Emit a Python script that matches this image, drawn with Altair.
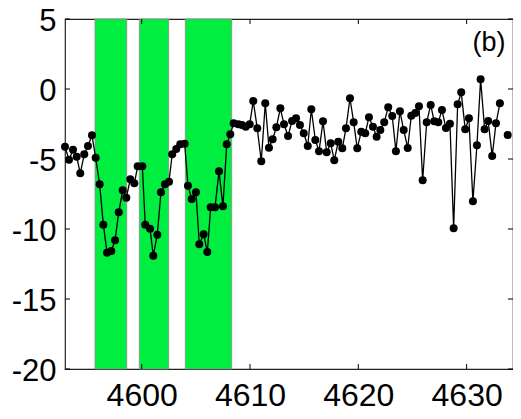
import altair as alt
import pandas as pd

# ---- data ----
xs = [4592.92, 4593.29, 4593.66, 4594.00, 4594.33, 4594.70, 4595.04, 4595.41, 4595.75, 4596.12,
      4596.46, 4596.80, 4597.19, 4597.54, 4597.88, 4598.25, 4598.58, 4598.95, 4599.32, 4599.63,
      4600.06, 4600.33, 4600.77, 4601.07, 4601.44, 4601.78, 4602.15, 4602.52, 4602.82, 4603.19,
      4603.56, 4603.97, 4604.27, 4604.62, 4605.01, 4605.32, 4605.72, 4606.06, 4606.37, 4606.77,
      4607.14, 4607.50, 4607.85, 4608.18, 4608.49, 4608.92, 4609.26, 4609.60, 4609.97, 4610.30,
      4610.67, 4611.04, 4611.41, 4611.75, 4612.09, 4612.43, 4612.80, 4613.14, 4613.51, 4613.88,
      4614.25, 4614.61, 4614.96, 4615.33, 4615.66, 4616.03, 4616.37, 4616.74, 4617.08, 4617.45,
      4617.78, 4618.15, 4618.52, 4618.86, 4619.23, 4619.57, 4619.90, 4620.27, 4620.64, 4620.98,
      4621.35, 4621.69, 4622.03, 4622.39, 4622.76, 4623.13, 4623.47, 4623.84, 4624.19, 4624.56,
      4624.89, 4625.26, 4625.60, 4625.94, 4626.31, 4626.68, 4627.01, 4627.38, 4627.72, 4628.09,
      4628.46, 4628.80, 4629.17, 4629.50, 4629.87, 4630.21, 4630.58, 4630.95, 4631.29, 4631.66,
      4631.99, 4632.36, 4632.71, 4633.07, 4633.79, 4634.80, 4635.15]
ys = [-4.12, -5.05, -4.34, -4.84, -6.02, -4.66, -4.07, -3.31, -4.91, -6.81,
      -9.69, -11.69, -11.57, -10.81, -8.81, -7.24, -7.76, -6.45, -6.74, -5.52,
      -5.52, -9.69, -9.98, -11.91, -10.41, -7.38, -6.81, -6.62, -4.66, -4.29,
      -3.95, -3.91, -6.91, -7.86, -7.38, -11.09, -10.38, -11.64, -8.45, -8.45,
      -5.88, -8.38, -3.95, -3.24, -2.45, -2.52, -2.57, -2.69, -2.52, -0.86,
      -2.81, -5.16, -1.02, -4.19, -3.59, -2.74, -1.38, -2.52, -3.36, -2.29,
      -2.09, -2.57, -3.16, -4.07, -1.45, -3.64, -4.45, -2.31, -4.52, -3.88,
      -5.09, -3.76, -4.24, -2.81, -0.66, -2.38, -4.24, -3.05, -3.16, -2.02,
      -2.69, -3.41, -2.93, -2.38, -1.31, -1.93, -4.45, -1.59, -2.93, -4.21,
      -1.91, -1.71, -1.24, -6.52, -2.38, -1.14, -2.31, -2.38, -1.50, -2.79,
      -2.48, -9.95, -1.09, -0.24, -2.88, -2.09, -8.02, -4.02, 0.69, -2.88,
      -2.29, -4.79, -2.45, -1.02, -3.29, -1.24, -2.20]
# line segments (gaps in the series)
segs = [0] * 114 + [1] + [2, 2]

band_start = [4595.69, 4599.78, 4604.03]
band_end = [4598.62, 4602.49, 4608.31]

x_ticks = [4600, 4610, 4620, 4630]
y_ticks = [-20, -15, -10, -5, 0, 5]
x_domain = [4592.92, 4634.28]
y_domain = [-20, 5]
panel_label = "(b)"
label_pos = [4632.06, 3.31]

W, H = 448, 350
FONT = "Liberation Sans"

df = pd.DataFrame({"x": xs, "y": ys, "seg": segs})
bands = pd.DataFrame({"x0": band_start, "x1": band_end})
xt = pd.DataFrame({"t": x_ticks})
yt = pd.DataFrame({"t": y_ticks})
lab = pd.DataFrame({"x": [label_pos[0]], "y": [label_pos[1]], "txt": [panel_label]})

xscale = alt.Scale(domain=x_domain, nice=False, zero=False)
yscale = alt.Scale(domain=y_domain, nice=False, zero=False)

xaxis = alt.Axis(values=x_ticks, title=None, tickSize=0, domain=False, grid=False,
                 labelFontSize=32, labelFont=FONT, labelColor="black", labelPadding=11,
                 labelExpr="datum.value + ''")
yaxis = alt.Axis(values=y_ticks, title=None, tickSize=0, domain=False, grid=False,
                 labelFontSize=31, labelFont=FONT, labelColor="black", labelPadding=9,
                 labelOffset=2, labelExpr="datum.value + ''")

band_layer = alt.Chart(bands).mark_rect(color="#00EE40", stroke="#8a8a8a", strokeWidth=0.8).encode(
    x=alt.X("x0:Q", scale=xscale, axis=xaxis),
    x2="x1:Q",
    y=alt.value(0),
    y2=alt.value(H),
)

line_layer = alt.Chart(df).mark_line(color="black", strokeWidth=1.3, clip=True).encode(
    x=alt.X("x:Q", scale=xscale),
    y=alt.Y("y:Q", scale=yscale, axis=yaxis),
    detail="seg:N",
    order="x:Q",
)

pt_layer = alt.Chart(df).transform_filter(
    f"datum.x <= {x_domain[1]}"
).mark_circle(color="black", opacity=1, size=64).encode(
    x=alt.X("x:Q", scale=xscale),
    y=alt.Y("y:Q", scale=yscale),
)

tick_len = 5
xt_bottom = alt.Chart(xt).mark_rule(color="black", strokeWidth=1).encode(
    x=alt.X("t:Q", scale=xscale), y=alt.value(H - tick_len), y2=alt.value(H))
xt_top = alt.Chart(xt).mark_rule(color="black", strokeWidth=1).encode(
    x=alt.X("t:Q", scale=xscale), y=alt.value(0), y2=alt.value(tick_len))
yt_left = alt.Chart(yt).mark_rule(color="black", strokeWidth=1).encode(
    y=alt.Y("t:Q", scale=yscale), x=alt.value(0), x2=alt.value(tick_len))
yt_right = alt.Chart(yt).mark_rule(color="black", strokeWidth=1).encode(
    y=alt.Y("t:Q", scale=yscale), x=alt.value(W - tick_len), x2=alt.value(W))

label_layer = alt.Chart(lab).mark_text(font=FONT, fontSize=27, color="black",
                                       align="center", baseline="middle").encode(
    x=alt.X("x:Q", scale=xscale), y=alt.Y("y:Q", scale=yscale), text="txt:N")

chart = alt.layer(
    band_layer, line_layer, pt_layer, xt_bottom, xt_top, yt_left, yt_right, label_layer
).properties(
    width=W, height=H,
    autosize=alt.AutoSizeParams(type="none"),
    padding={"left": 57, "top": 11, "right": 0, "bottom": 37},
    background="white",
).configure_view(stroke="#222222", strokeWidth=1.2)

chart.save("out.html", embed_options={"renderer": "svg", "actions": False})
